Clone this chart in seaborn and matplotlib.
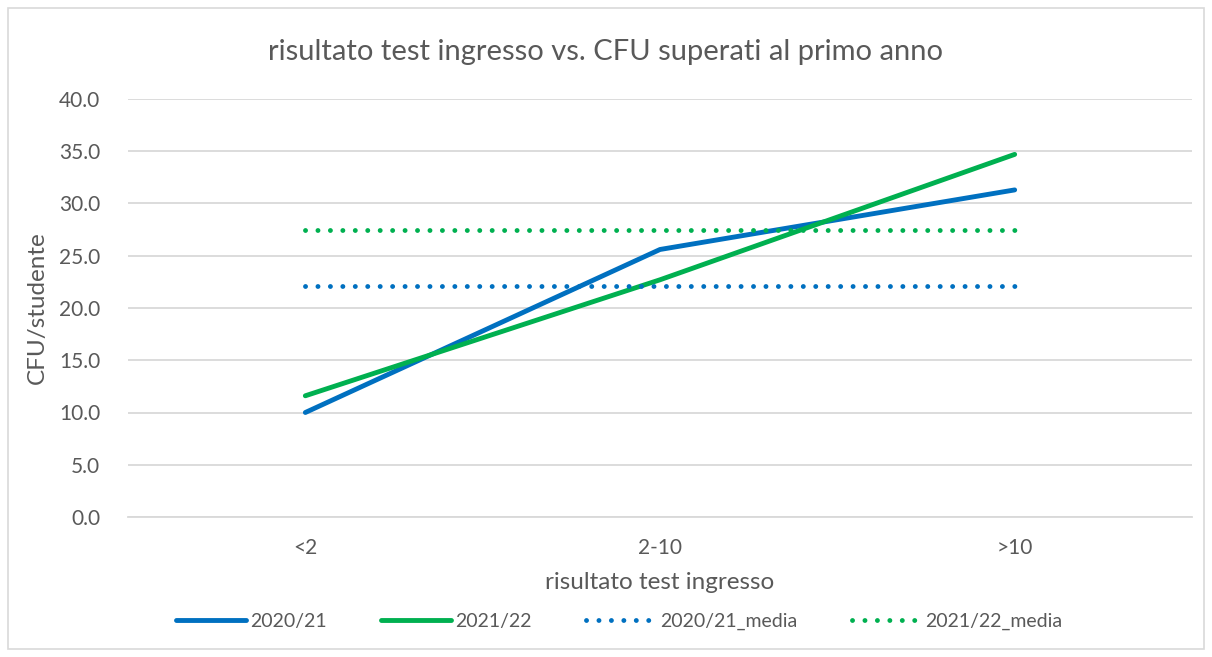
import numpy as np
import pandas as pd
import seaborn as sns
import matplotlib.pyplot as plt
from matplotlib.patches import Rectangle

categories = ["<2", "2-10", ">10"]
cfu_2020 = [10.0, 25.6, 31.3]
cfu_2021 = [11.6, 22.7, 34.7]
media_2020 = [22.1, 22.1, 22.1]
media_2021 = [27.5, 27.5, 27.5]

series_names = ["2020/21", "2021/22", "2020/21_media", "2021/22_media"]
series_values = [cfu_2020, cfu_2021, media_2020, media_2021]

BLUE = "#0070C0"
GREEN = "#00B050"
TEXT = "#595959"
GRID = "#D9D9D9"

sns.set_style("white")
plt.rcParams["font.family"] = ["Lato", "DejaVu Sans"]

rows = []
for name, vals in zip(series_names, series_values):
    for cat, v in zip(categories, vals):
        rows.append({"risultato": cat, "CFU": v, "serie": name})
df = pd.DataFrame(rows)

fig = plt.figure(figsize=(12.12, 6.57), dpi=100)
ax = fig.add_axes([128 / 1212, 1 - 517 / 657, (1192 - 128) / 1212, (517 - 99) / 657])

styles = {
    "2020/21": dict(color=BLUE, lw=3.5, ls="-"),
    "2021/22": dict(color=GREEN, lw=3.5, ls="-"),
    "2020/21_media": dict(color=BLUE, lw=3.5, ls=(0, (0.01, 2.55))),
    "2021/22_media": dict(color=GREEN, lw=3.5, ls=(0, (0.01, 2.55))),
}

for name in series_names:
    sub = df[df["serie"] == name]
    st = styles[name]
    sns.lineplot(
        data=sub, x="risultato", y="CFU", ax=ax, color=st["color"],
        linewidth=st["lw"], linestyle=st["ls"], label=name,
        solid_capstyle="round", dash_capstyle="round", sort=False,
    )

ax.set_xlim(-0.5, 2.5)
ax.set_ylim(0, 40)
ax.set_yticks(np.arange(0, 40.1, 5))
ax.set_yticklabels([f"{v:.1f}" for v in np.arange(0, 40.1, 5)])
ax.yaxis.grid(True, color=GRID, lw=1.3)
ax.set_axisbelow(True)
for s in ["top", "right", "left"]:
    ax.spines[s].set_visible(False)
ax.spines["bottom"].set_color(GRID)
ax.spines["bottom"].set_linewidth(1.3)
ax.tick_params(axis="both", length=0, labelsize=15, colors=TEXT, pad=20)
ax.tick_params(axis="x", pad=15)

ax.set_xlabel("risultato test ingresso", fontsize=17.5, color=TEXT, labelpad=10)
ax.set_ylabel("CFU/studente", fontsize=17.5, color=TEXT, labelpad=8)
fig.text(0.5, 1 - 52 / 657, "risultato test ingresso vs. CFU superati al primo anno",
         ha="center", va="center", fontsize=21, color=TEXT)

leg = ax.legend(loc="center", bbox_to_anchor=(0.462, -0.25), ncol=4, frameon=False,
                fontsize=14, handlelength=3.6, handletextpad=0.2, columnspacing=2.8)
for t in leg.get_texts():
    t.set_color(TEXT)

fig.patches.append(Rectangle((8 / 1212, 8 / 657), 1196 / 1212, 641 / 657,
                             transform=fig.transFigure, fill=False,
                             edgecolor=GRID, lw=1.2))

fig.savefig("out.png", dpi=100)
